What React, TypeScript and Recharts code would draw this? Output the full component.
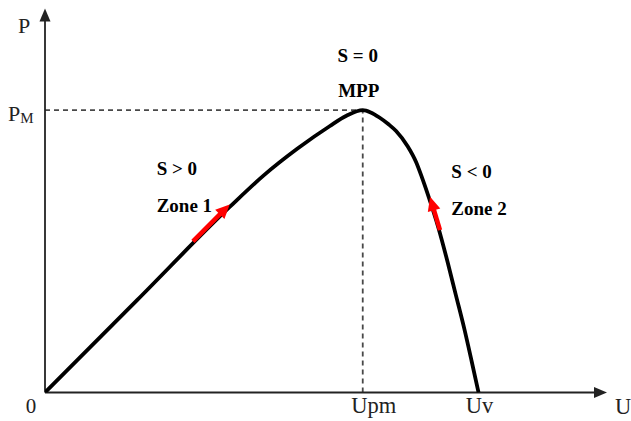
import React from 'react';
import {
  LineChart,
  Line,
  XAxis,
  YAxis,
  ReferenceLine,
  ReferenceDot,
} from 'recharts';

// P-U characteristic of the PV module (U in V, P in W)
const voltage = [
  0, 4.65, 9.3, 11.0, 12.7, 14.33, 15.18, 16.0, 16.4, 16.84, 17.3, 17.68, 18.26,
  18.68, 18.99, 19.29, 19.82, 20.27, 20.69, 21.11, 21.49, 21.83,
];
const power = [
  0, 32.8, 65.7, 76.8, 86.3, 94.3, 98.0, 100, 99.2, 97.4, 95.0, 92.6, 87.2,
  81.7, 76.0, 69.9, 58.1, 46.3, 34.5, 22.7, 10.9, 0,
];

// operating points named on the axes
const uPm = 16.0;
const uV = 21.83;
const pM = 100;
const uMax = 28.3;
const pMax = 136;

// direction arrows along the curve: [tail, tip]
const zone1Arrow = [
  { x: 7.45, y: 53.5 },
  { x: 9.3, y: 66.6 },
];
const zone2Arrow = [
  { x: 19.89, y: 57.5 },
  { x: 19.39, y: 69.3 },
];

const data = voltage.map((u, i) => ({ u, p: power[i] }));

const SERIF = '"Liberation Serif", "Times New Roman", serif';

const arrowShape =
  (color: string, width: number, headLen: number, headW: number) =>
  (props: any) => {
    const { x1, y1, x2, y2 } = props;
    const dx = x2 - x1;
    const dy = y2 - y1;
    const len = Math.hypot(dx, dy) || 1;
    const ux = dx / len;
    const uy = dy / len;
    const bx = x2 - ux * headLen;
    const by = y2 - uy * headLen;
    const nx = -uy * (headW / 2);
    const ny = ux * (headW / 2);
    return (
      <g>
        <line x1={x1} y1={y1} x2={bx + ux} y2={by + uy} stroke={color} strokeWidth={width} />
        <polygon
          points={`${x2},${y2} ${bx + nx},${by + ny} ${bx - nx},${by - ny}`}
          fill={color}
        />
      </g>
    );
  };

interface TextLabel {
  x: number;
  y: number;
  dx: number;
  dy: number;
  text: string;
  sub?: string;
  size: number;
  bold?: boolean;
  anchor?: 'start' | 'middle' | 'end';
}

const labels: TextLabel[] = [
  { x: 0, y: pMax, dx: -27, dy: 24.5, text: 'P', size: 22 },
  { x: 0, y: pM, dx: -37, dy: 11, text: 'P', sub: 'M', size: 22 },
  { x: 0, y: 0, dx: -14, dy: 20.5, text: '0', size: 21, anchor: 'middle' },
  { x: uPm, y: 0, dx: 11, dy: 20, text: 'Upm', size: 22.5, anchor: 'middle' },
  { x: uV, y: 0, dx: 1, dy: 20, text: 'Uv', size: 22.5, anchor: 'middle' },
  { x: uMax, y: 0, dx: 8, dy: 21, text: 'U', size: 22.5 },
  { x: uPm, y: pM, dx: -5, dy: -48, text: 'S = 0', size: 19, bold: true, anchor: 'middle' },
  { x: uPm, y: pM, dx: -4, dy: -13, text: 'MPP', size: 19, bold: true, anchor: 'middle' },
  { x: 9.3, y: 66.6, dx: -73, dy: -29.4, text: 'S > 0', size: 19, bold: true },
  { x: 9.3, y: 66.6, dx: -73, dy: 7.6, text: 'Zone 1', size: 19, bold: true },
  { x: 19.39, y: 69.3, dx: 21.3, dy: -18.8, text: 'S < 0', size: 19, bold: true },
  { x: 19.39, y: 69.3, dx: 21.3, dy: 18.2, text: 'Zone 2', size: 19, bold: true },
];

const textShape = (l: TextLabel) => (props: any) => {
  const { cx, cy } = props;
  return (
    <text
      x={cx + l.dx}
      y={cy + l.dy}
      fontFamily={SERIF}
      fontSize={l.size}
      fontWeight={l.bold ? 'bold' : 'normal'}
      fill={l.bold ? '#000' : '#222'}
      textAnchor={l.anchor || 'start'}
    >
      {l.text}
      {l.sub && (
        <tspan fontSize={15} dy={2}>
          {l.sub}
        </tspan>
      )}
    </text>
  );
};

export default function App() {
  return (
    <div style={{ position: 'absolute', left: 0, top: 0, width: 631, height: 421, background: '#fff' }}>
      <LineChart
        width={631}
        height={421}
        data={data}
        margin={{ top: 8.5, right: 24, bottom: 28.5, left: 45 }}
      >
        <XAxis type="number" dataKey="u" domain={[0, uMax]} hide allowDataOverflow />
        <YAxis type="number" domain={[0, pMax]} hide allowDataOverflow />

        {/* dashed guides to the maximum power point */}
        <ReferenceLine
          segment={[{ x: 0, y: pM }, { x: uPm, y: pM }]}
          stroke="#484848"
          strokeWidth={1.8}
          strokeDasharray="5 4"
        />
        <ReferenceLine
          segment={[{ x: uPm, y: 0 }, { x: uPm, y: pM }]}
          stroke="#484848"
          strokeWidth={1.8}
          strokeDasharray="5 4"
        />

        {/* axes with arrow heads */}
        <ReferenceLine
          segment={[{ x: 0, y: 0 }, { x: uMax, y: 0 }]}
          shape={arrowShape('#222', 1.8, 13, 11)}
        />
        <ReferenceLine
          segment={[{ x: 0, y: 0 }, { x: 0, y: pMax }]}
          shape={arrowShape('#222', 1.8, 13, 11)}
        />

        <Line
          type="monotone"
          dataKey="p"
          stroke="#000"
          strokeWidth={3.8}
          dot={false}
          activeDot={false}
          isAnimationActive={false}
        />

        <ReferenceLine segment={zone1Arrow} shape={arrowShape('#ff0000', 4.5, 14, 13)} />
        <ReferenceLine segment={zone2Arrow} shape={arrowShape('#ff0000', 4.5, 14, 13)} />

        {labels.map((l, i) => (
          <ReferenceDot key={i} x={l.x} y={l.y} r={0} shape={textShape(l)} />
        ))}
      </LineChart>
    </div>
  );
}
